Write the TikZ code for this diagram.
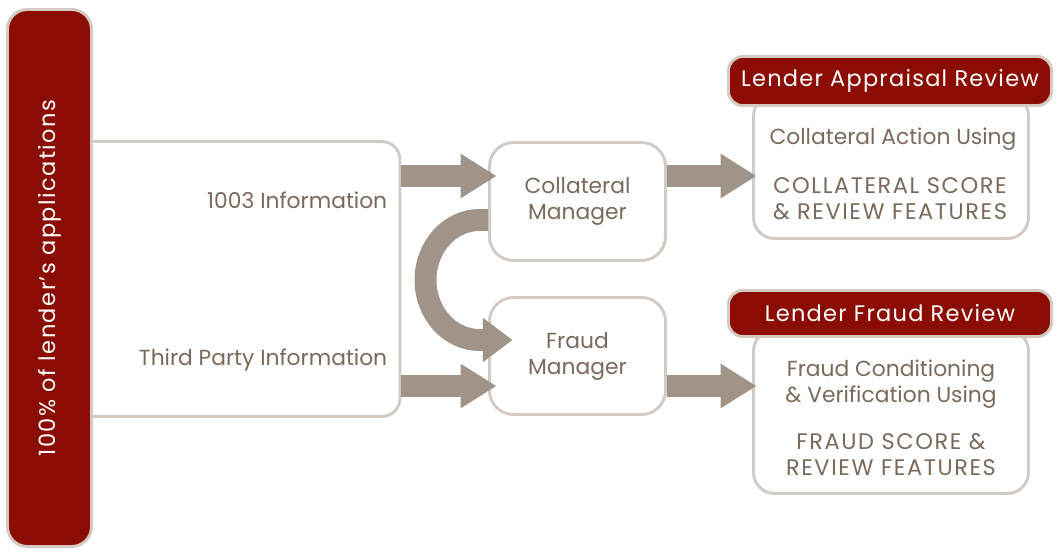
\documentclass[tikz,border=0pt]{standalone}
\usepackage{fontspec}
\setmainfont{Poppins}
\usetikzlibrary{arrows.meta,positioning,calc}
\definecolor{lenderRed}{RGB}{139,12,3}
\definecolor{frameGrey}{RGB}{211,203,195}
\definecolor{flowGrey}{RGB}{160,148,136}
\definecolor{textBrown}{RGB}{122,106,92}
\newcommand{\px}{0.025cm}
\newcommand{\widefont}[1]{\fontsize{16}{18.5}\selectfont\addfontfeature{LetterSpace=#1}}
\tikzset{
    every node/.append style={align=center},
    panel/.style={rectangle,draw=frameGrey,line width=2.1pt,fill=white,rounded corners=13pt,
        text=textBrown},
    banner/.style={rectangle,draw=frameGrey,line width=2.1pt,fill=lenderRed,rounded corners=10pt,
        text=white,font=\widefont{5.5}},
    lbl/.style={text=textBrown,inner sep=0pt},
    caps/.style={lbl,font=\widefont{7}},
    fat/.style={-{Triangle[length=25.6pt,width=30pt]},line width=15.6pt,draw=flowGrey},
    fatbend/.style={-{Triangle[length=21pt,width=30pt]},line width=15.6pt,draw=flowGrey}
}

\begin{document}
\begin{tikzpicture}[x=0.025cm,y=0.025cm,every node/.append style={font=\fontsize{15.5}{18.5}\selectfont}]
    \useasboundingbox (0,0) rectangle (1058,-550);

    % inputs, left edge tucked under the bar
    \node[panel,minimum width=340*\px,minimum height=275*\px] (info) at (230,-279) {};
    \node[banner,rotate=90,rounded corners=14pt,minimum width=537*\px,minimum height=84*\px,
        font=\widefont{6.5}] (apps) at (49.5,-278) {100\% of lender’s applications};
    \node[lbl,anchor=east] (loan)  at ($(info.east)+(-14,79)$)  {1003 Information};
    \node[lbl,anchor=east] (third) at ($(info.east)+(-14,-81)$) {Third Party Information};

    % managers
    \node[panel,rounded corners=17pt,minimum width=176*\px,minimum height=118*\px]
        (coll) at (577.5,-201.5) {Collateral\\Manager};
    \node[panel,rounded corners=17pt,minimum width=176*\px,minimum height=117*\px]
        (fraud) at (577.5,-356) {Fraud\\Manager};

    % review boxes
    \node[panel,rounded corners=15pt,minimum width=275*\px,minimum height=143.5*\px]
        (apprbody) at (891,-166.75) {};
    \node[banner,minimum width=323*\px,minimum height=49*\px]
        (appr) at (890,-81) {Lender Appraisal Review};
    \node[lbl] (apprtop) at (893,-139) {Collateral Action Using};
    \node[caps] (apprbot) at (890,-199) {COLLATERAL SCORE\\\& REVIEW FEATURES};

    \node[panel,rounded corners=15pt,minimum width=275*\px,minimum height=163.5*\px]
        (frbody) at (891,-411.75) {};
    \node[banner,minimum width=323*\px,minimum height=46*\px]
        (frrev) at (890,-313.5) {Lender Fraud Review};
    \node[lbl] (frtop) at (891,-384) {Fraud Conditioning\\\& Verification Using};
    \node[caps] (frbot) at (891,-455) {FRAUD SCORE \&\\REVIEW FEATURES};

    % flow arrows
    \draw[fat] ($(info.east |- coll)+(0,25.5)$) -- ($(coll.west)+(8.5,25.5)$);
    \draw[fat] ($(info.east |- fraud)+(0,-30)$) -- ($(fraud.west)+(8.5,-30)$);
    \draw[fat] ($(coll.east)+(0,25.5)$) -- ($(apprbody.west |- coll)+(4.5,25.5)$);
    \draw[fat] ($(fraud.east)+(0,-30)$) -- ($(frbody.west |- fraud)+(4.5,-30)$);
    \draw[fatbend] ($(coll.west)+(0,-18.5)$) -- ++(-8.5,0)
        arc[start angle=90,end angle=270,x radius=54,y radius=60]
        -- ($(fraud.west)+(24.5,16)$);
\end{tikzpicture}
\end{document}
